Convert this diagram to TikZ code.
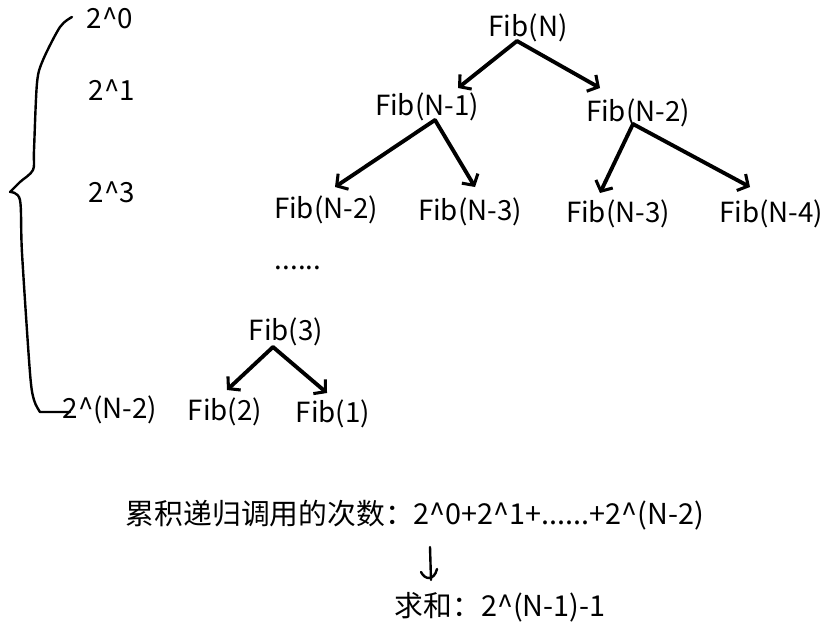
\documentclass[tikz,border=0pt]{standalone}
\usepackage{fontspec}
\setmainfont{Noto Sans CJK SC}
\usetikzlibrary{arrows.meta,calc}
\begin{document}
\begin{tikzpicture}[x=0.75pt,y=-0.75pt,
  lbl/.style={inner sep=0pt,font=\fontsize{20.8}{24}\selectfont},
  big/.style={inner sep=0pt,font=\fontsize{21.6}{24}\selectfont},
  edge/.style={line width=2.9pt,line cap=round,-{Straight Barb[length=6pt,width=14pt,line width=2.3pt]}},
  hand/.style={line width=1.8pt,line cap=round,line join=round}]
\useasboundingbox (0,0) rectangle (835,636);
% level labels
\node[lbl] (l0) at (110,18) {2\char`\^0};
\node[lbl] (l1) at (112,90) {2\char`\^1};
\node[lbl] (l3) at (112,192) {2\char`\^3};
\node[lbl] (ln) at (110,410) {2\char`\^(N-2)};
% brace
\draw[hand] plot[smooth,tension=0.5] coordinates {(72,17) (60,27) (43,60) (37,83) (34,150) (33,170) (20,182) (10,192)};
\draw[hand] plot[smooth,tension=0.5] coordinates {(10,192) (20,200) (22,253) (30,373) (34,400) (40,412)} -- (70,412);
% tree
\node[lbl] (fibN) at (528,28) {Fib(N)};
\node[lbl] (fibN1) at (427,107) {Fib(N-1)};
\node[lbl] (fibN2r) at (638,113) {Fib(N-2)};
\node[lbl] (fibN2l) at (326,210) {Fib(N-2)};
\node[lbl] (fibN3a) at (470,212) {Fib(N-3)};
\node[lbl] (fibN3b) at (618,214) {Fib(N-3)};
\node[lbl] (fibN4) at (771,214) {Fib(N-4)};
\node[lbl] (dots) at (298,268) {......};
\node[lbl] (fib3) at (286,332) {Fib(3)};
\node[lbl] (fib2) at (225,412) {Fib(2)};
\node[lbl] (fib1) at (333,414) {Fib(1)};
\draw[edge] ($(fibN)+(-11,13)$) -- ($(fibN1)+(31,-19)$);
\draw[edge] ($(fibN)+(-11,13)$) -- ($(fibN2r)+(-38,-25)$);
\draw[edge] ($(fibN1)+(8,13)$) -- ($(fibN2l)+(9,-23)$);
\draw[edge] ($(fibN1)+(8,13)$) -- ($(fibN3a)+(5,-25)$);
\draw[edge] ($(fibN2r)+(-5,11)$) -- ($(fibN3b)+(-18,-21)$);
\draw[edge] ($(fibN2r)+(-5,11)$) -- ($(fibN4)+(-21,-27)$);
\draw[edge] ($(fib3)+(-13,15)$) -- ($(fib2)+(2,-22)$);
\draw[edge] ($(fib3)+(-13,15)$) -- ($(fib1)+(-6,-21)$);
% bottom formulas
\node[big] (sum) at (415,515) {累积递归调用的次数：2\char`\^0+2\char`\^1+......+2\char`\^(N-2)};
\node[big] (res) at (500,607) {求和：2\char`\^(N-1)-1};
\draw[hand] ($(sum)+(15,32)$) -- ($(sum)+(16,65)$);
\draw[hand] ($(res)+(-79,-35)$) .. controls ($(res)+(-75,-27)$) and ($(res)+(-66,-26)$) .. ($(res)+(-63,-38)$);
\end{tikzpicture}
\end{document}
